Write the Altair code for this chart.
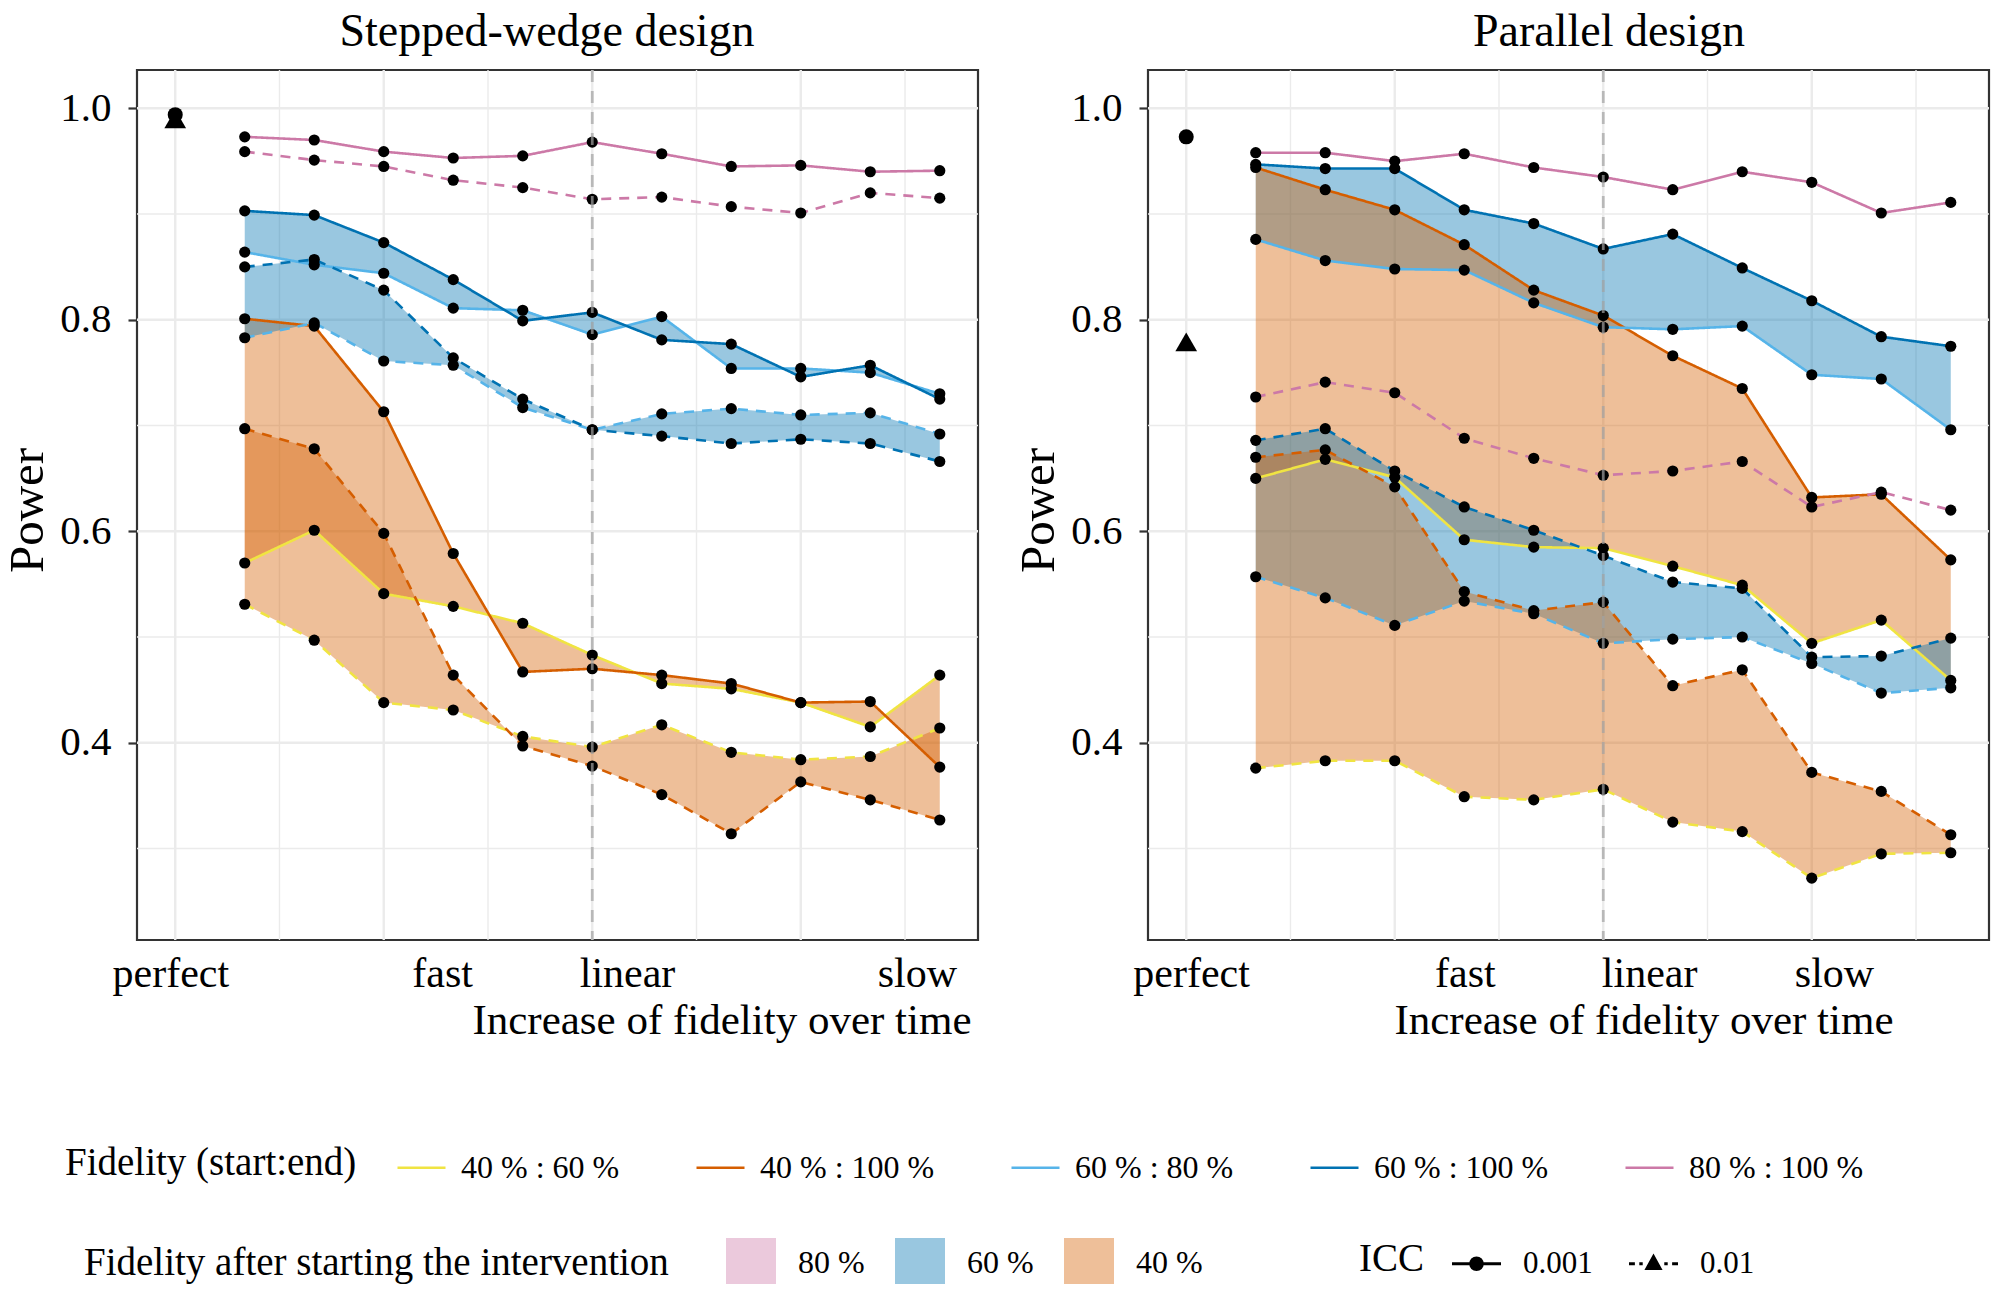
import math
import altair as alt
import pandas as pd

FONT = "Liberation Serif"

# ---------------- data ----------------
designs = ["Stepped-wedge design", "Parallel design"]
steps = [1, 2, 3, 4, 5, 6, 7, 8, 9, 10, 11]
perfect_step = 0
combos = ["40 % : 60 %", "40 % : 100 %", "60 % : 80 %", "60 % : 100 %", "80 % : 100 %"]
combo_colors = ["#F0E442", "#D55E00", "#56B4E9", "#0072B2", "#CC79A7"]
levels = ["80 %", "60 %", "40 %"]
level_colors = ["#CC79A7", "#0072B2", "#D55E00"]
iccs = ["0.001", "0.01"]

# Stepped-wedge design, ICC 0.001
sw_40_60_icc001 = [0.570, 0.601, 0.541, 0.529, 0.513, 0.483, 0.456, 0.451, 0.438, 0.415, 0.464]
sw_40_100_icc001 = [0.801, 0.794, 0.713, 0.579, 0.467, 0.470, 0.464, 0.456, 0.438, 0.439, 0.377]
sw_60_80_icc001 = [0.864, 0.852, 0.844, 0.811, 0.809, 0.786, 0.803, 0.754, 0.754, 0.750, 0.730]
sw_60_100_icc001 = [0.903, 0.899, 0.873, 0.838, 0.799, 0.807, 0.781, 0.777, 0.746, 0.757, 0.725]
sw_80_100_icc001 = [0.973, 0.970, 0.959, 0.953, 0.955, 0.968, 0.957, 0.945, 0.946, 0.940, 0.941]
# Stepped-wedge design, ICC 0.01
sw_40_60_icc01 = [0.531, 0.497, 0.438, 0.431, 0.406, 0.396, 0.417, 0.391, 0.384, 0.387, 0.414]
sw_40_100_icc01 = [0.697, 0.678, 0.598, 0.464, 0.397, 0.378, 0.351, 0.314, 0.363, 0.346, 0.327]
sw_60_80_icc01 = [0.783, 0.797, 0.761, 0.757, 0.717, 0.696, 0.711, 0.716, 0.710, 0.712, 0.692]
sw_60_100_icc01 = [0.850, 0.857, 0.828, 0.764, 0.725, 0.696, 0.690, 0.683, 0.687, 0.683, 0.666]
sw_80_100_icc01 = [0.959, 0.951, 0.945, 0.932, 0.925, 0.914, 0.916, 0.907, 0.901, 0.920, 0.915]
sw_perfect = [0.994, 0.990]  # ICC 0.001, ICC 0.01

# Parallel design, ICC 0.001
pa_40_60_icc001 = [0.650, 0.668, 0.651, 0.592, 0.585, 0.584, 0.567, 0.549, 0.494, 0.516, 0.459]
pa_40_100_icc001 = [0.944, 0.923, 0.904, 0.871, 0.828, 0.804, 0.766, 0.735, 0.632, 0.635, 0.573]
pa_60_80_icc001 = [0.876, 0.856, 0.848, 0.847, 0.816, 0.793, 0.791, 0.794, 0.748, 0.744, 0.696]
pa_60_100_icc001 = [0.947, 0.943, 0.943, 0.904, 0.891, 0.867, 0.881, 0.849, 0.818, 0.784, 0.775]
pa_80_100_icc001 = [0.958, 0.958, 0.950, 0.957, 0.944, 0.935, 0.923, 0.940, 0.930, 0.901, 0.911]
# Parallel design, ICC 0.01
pa_40_60_icc01 = [0.376, 0.383, 0.383, 0.349, 0.346, 0.356, 0.325, 0.316, 0.272, 0.295, 0.296]
pa_40_100_icc01 = [0.670, 0.677, 0.642, 0.543, 0.525, 0.533, 0.454, 0.469, 0.372, 0.354, 0.313]
pa_60_80_icc01 = [0.557, 0.537, 0.511, 0.534, 0.522, 0.494, 0.498, 0.500, 0.475, 0.447, 0.452]
pa_60_100_icc01 = [0.686, 0.697, 0.657, 0.623, 0.601, 0.577, 0.552, 0.546, 0.481, 0.482, 0.499]
pa_80_100_icc01 = [0.727, 0.741, 0.731, 0.688, 0.669, 0.653, 0.657, 0.666, 0.623, 0.637, 0.620]
pa_perfect = [0.973, 0.779]

x_labels = ["perfect", "fast", "linear", "slow"]
sw_label_pos = [-0.07, 3.84, 6.50, 10.67]
pa_label_pos = [0.07, 4.01, 6.66, 9.32]
x_major = [0, 3, 6, 9]
x_minor = [1.5, 4.5, 7.5, 10.5]
y_major = [0.4, 0.6, 0.8, 1.0]
y_minor = [0.3, 0.5, 0.7, 0.9]
linear_ref = [6]

power = {
    "Stepped-wedge design": {
        "0.001": [sw_40_60_icc001, sw_40_100_icc001, sw_60_80_icc001, sw_60_100_icc001, sw_80_100_icc001],
        "0.01": [sw_40_60_icc01, sw_40_100_icc01, sw_60_80_icc01, sw_60_100_icc01, sw_80_100_icc01],
    },
    "Parallel design": {
        "0.001": [pa_40_60_icc001, pa_40_100_icc001, pa_60_80_icc001, pa_60_100_icc001, pa_80_100_icc001],
        "0.01": [pa_40_60_icc01, pa_40_100_icc01, pa_60_80_icc01, pa_60_100_icc01, pa_80_100_icc01],
    },
}
perfect = {"Stepped-wedge design": sw_perfect, "Parallel design": pa_perfect}
ribbon_pairs = [("60 %", "60 % : 100 %", "60 % : 80 %"), ("40 %", "40 % : 100 %", "40 % : 60 %")]

rows, rrows, prows = [], [], []
for d in designs:
    for icc in iccs:
        series = dict(zip(combos, power[d][icc]))
        for combo in combos:
            for s, v in zip(steps, series[combo]):
                rows.append(dict(design=d, x=s, combo=combo, icc=icc, y=v))
        for lvl, up, lo in ribbon_pairs:
            for s, a, b in zip(steps, series[up], series[lo]):
                rrows.append(dict(design=d, icc=icc, level=lvl, x=s, y=a, y2=b))
    for icc, v in zip(iccs, perfect[d]):
        prows.append(dict(design=d, x=perfect_step, icc=icc, y=v))
lines_df = pd.DataFrame(rows)
ribbon_df = pd.DataFrame(rrows)
perfect_df = pd.DataFrame(prows)

# ---------------- legends ----------------
def poly_circle(r, n=16):
    pts = [(r * math.cos(2 * math.pi * k / n), r * math.sin(2 * math.pi * k / n)) for k in range(n)]
    return "M" + "L".join(f"{x:.3f},{y:.3f}" for x, y in pts) + "Z"


def bar(x0, x1, t=0.06):
    return f"M{x0},{-t}L{x1},{-t}L{x1},{t}L{x0},{t}Z"


# legend keys: line + circle (ICC 0.001), dashed line + triangle (ICC 0.01)
icc_path_solid = bar(-1, 1) + poly_circle(0.3)
icc_path_dash = (bar(-1, -0.76) + bar(-0.58, -0.44) + bar(0.44, 0.58) + bar(0.76, 1)
                 + "M0,-0.42L0.37,0.25L-0.37,0.25Z")

common_legend = dict(
    orient="none", direction="horizontal", titleOrient="left", titleAnchor="middle",
    titleBaseline="middle", titleFont=FONT, titleFontSize=39, titleFontWeight="normal",
    titleColor="black", titleLimit=1000, labelFont=FONT, labelColor="black",
    labelLimit=400, padding=0,
)
# legend positions are relative to the left panel's plot origin
legend_color = alt.Legend(
    title="Fidelity (start:end)", legendX=-72, legendY=1072, labelFontSize=32,
    titlePadding=39, labelOffset=14, columnPadding=71, symbolType="stroke",
    symbolSize=2304, symbolStrokeWidth=2.6, **common_legend)
legend_fill = alt.Legend(
    title="Fidelity after starting the intervention", legendX=-53, legendY=1168,
    labelFontSize=32, titlePadding=57, labelOffset=22, columnPadding=30,
    symbolType="square", symbolSize=2500, symbolOpacity=0.4, symbolStrokeWidth=0,
    **common_legend)
legend_icc = alt.Legend(
    title="ICC", legendX=1222, legendY=1169, labelFontSize=31, titlePadding=27,
    labelOffset=22, columnPadding=36, symbolSize=2401, symbolStrokeWidth=0,
    symbolOpacity=1, symbolFillColor="black", **common_legend)

color_enc = alt.Color("combo:N", scale=alt.Scale(domain=combos, range=combo_colors), legend=legend_color)
fill_enc = alt.Fill("level:N", scale=alt.Scale(domain=levels, range=level_colors), legend=legend_fill)
icc_key_enc = alt.Shape("icc:N", scale=alt.Scale(domain=iccs, range=[icc_path_solid, icc_path_dash]),
                        legend=legend_icc)
# data-driven domain (sorted: 0.001, 0.01) so it is not merged with the ICC key legend
dash_enc = alt.StrokeDash("icc:N", scale=alt.Scale(range=[[1, 0], [10, 8]]), legend=None)

W, H = 841, 870
YTITLE_X = -95


def panel(d, label_pos, title_dx, xtitle_x, with_key):
    xs = alt.Scale(domain=[-0.55, 11.55], nice=False, zero=False)
    ys = alt.Scale(domain=[0.2135, 1.0362], nice=False, zero=False)
    expr = (f"datum.value < 1 ? '{x_labels[0]}' : datum.value < 5 ? '{x_labels[1]}' : "
            f"datum.value < 8 ? '{x_labels[2]}' : '{x_labels[3]}'")
    x_axis = alt.Axis(
        values=label_pos, labelExpr=expr, grid=False, ticks=False, tickSize=0, domain=False,
        labelFont=FONT, labelFontSize=42, labelColor="black", labelPadding=46,
        labelBaseline="alphabetic", labelFlush=False, labelOverlap=False,
        title="Increase of fidelity over time", titleFont=FONT, titleFontSize=43,
        titleFontWeight="normal", titleColor="black", titleX=xtitle_x, titleY=93,
        titleAlign="right", titleBaseline="alphabetic")
    y_axis = alt.Axis(
        values=y_major, format=".1f", grid=False, domain=False, ticks=True, tickSize=9,
        tickWidth=2.2, tickColor="#333333", labelFont=FONT, labelFontSize=41,
        labelColor="black", labelPadding=17, title="Power", titleFont=FONT,
        titleFontSize=49, titleFontWeight="normal", titleColor="black", titleX=YTITLE_X,
        titleY=440, titleBaseline="alphabetic", titleAlign="center")
    X = alt.X("x:Q", scale=xs, axis=x_axis)
    Y = alt.Y("y:Q", scale=ys, axis=y_axis, stack=None)

    vmin = alt.Chart(pd.DataFrame({"x": x_minor})).mark_rule(color="#EBEBEB", strokeWidth=1.4).encode(x=X)
    vmaj = alt.Chart(pd.DataFrame({"x": x_major})).mark_rule(color="#EBEBEB", strokeWidth=2.4).encode(x=X)
    hmin = alt.Chart(pd.DataFrame({"y": y_minor})).mark_rule(color="#EBEBEB", strokeWidth=1.4).encode(y=Y)
    hmaj = alt.Chart(pd.DataFrame({"y": y_major})).mark_rule(color="#EBEBEB", strokeWidth=2.4).encode(y=Y)

    rib = ribbon_df[ribbon_df.design == d]
    areas = []
    for icc in iccs:
        for lvl, _, _ in ribbon_pairs:
            sub = rib[(rib.icc == icc) & (rib.level == lvl)]
            areas.append(alt.Chart(sub).mark_area(opacity=0.4, strokeWidth=0).encode(
                x=X, y=Y, y2="y2:Q", fill=fill_enc))

    ln = lines_df[lines_df.design == d]
    line_layer = alt.Chart(ln).mark_line(strokeWidth=2.6).encode(
        x=X, y=Y, color=color_enc, strokeDash=dash_enc, detail="icc:N")
    pts = alt.Chart(ln).mark_circle(color="black", size=125, opacity=1).encode(x=X, y=Y)
    pf = perfect_df[perfect_df.design == d]
    perf_c = alt.Chart(pf[pf.icc == iccs[0]]).mark_point(
        shape="circle", filled=True, color="black", opacity=1, size=225).encode(x=X, y=Y)
    perf_t = alt.Chart(pf[pf.icc == iccs[1]]).mark_point(
        shape="triangle-up", filled=True, color="black", opacity=1, size=470).encode(x=X, y=Y)
    ref = alt.Chart(pd.DataFrame({"x": linear_ref})).mark_rule(
        color="#A2A2A2", strokeDash=[12, 9], strokeWidth=2.8, opacity=0.7).encode(x=X)

    layers = [vmin, vmaj, hmin, hmaj, *areas, line_layer, pts, perf_c, perf_t, ref]
    if with_key:
        # layer without marks that only provides the ICC legend key
        key = alt.Chart(pf).transform_filter("false").mark_point(
            filled=True, color="black").encode(x=X, y=Y, shape=icc_key_enc)
        layers.append(key)

    return alt.layer(*layers).properties(
        width=W, height=H,
        title=alt.TitleParams(text=d, font=FONT, fontSize=46, fontWeight="normal", color="black",
                              anchor="middle", offset=13, dx=title_dx))


left = panel(designs[0], sw_label_pos, -10.5, 834, True)
right = panel(designs[1], pa_label_pos, 40.5, 745, False)

chart = alt.hconcat(left, right, spacing=31).resolve_scale(
    x="independent", y="independent", color="shared", fill="shared", strokeDash="shared"
).properties(
    padding={"left": -7, "top": -1, "right": -1, "bottom": -4}
).configure(font=FONT).configure_view(stroke="#333333", strokeWidth=2.2)

chart.save("out.html", embed_options={"renderer": "svg", "actions": False})
